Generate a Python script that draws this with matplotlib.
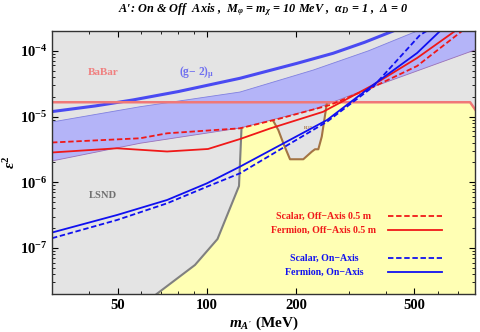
import matplotlib
matplotlib.use('Agg')
import matplotlib.pyplot as plt
from matplotlib.ticker import FixedLocator, NullFormatter, LogLocator

plt.rcParams['font.family'] = 'Liberation Serif'
plt.rcParams['font.weight'] = 'bold'
plt.rcParams['mathtext.fontset'] = 'custom'
plt.rcParams['mathtext.rm'] = 'Liberation Serif:bold'
plt.rcParams['mathtext.bf'] = 'Liberation Serif:bold'
plt.rcParams['mathtext.it'] = 'Liberation Serif:italic:bold'
plt.rcParams['mathtext.default'] = 'bf'

# --- data (m in MeV, eps^2) ---
scalar_off_m = [30, 59.4, 73.3, 129.1, 176.1, 259.7, 362.6, 510.3, 723.4]
scalar_off_e = [4.03e-6, 4.67e-6, 5.56e-6, 6.62e-6, 9.33e-6, 1.50e-5, 2.81e-5, 5.87e-5, 2.0e-4]

fermion_off_m = [30, 49.7, 73.3, 100.7, 129.1, 163, 245.9, 362.6, 510.3, 685.3]
fermion_off_e = [2.84e-6, 3.29e-6, 2.94e-6, 3.21e-6, 4.55e-6, 6.58e-6, 1.18e-5, 3.02e-5, 7.77e-5, 2.0e-4]

scalar_on_m = [30, 49.7, 73.3, 99.9, 129.1, 253.7, 362.6, 522.2, 550]
scalar_on_e = [1.41e-7, 2.67e-7, 4.79e-7, 8.57e-7, 1.37e-6, 8.35e-6, 2.84e-5, 1.74e-4, 2.0e-4]

fermion_on_m = [30, 49.7, 73.3, 99.9, 129.1, 253.7, 362.6, 510.3, 610]
fermion_on_e = [1.72e-7, 3.18e-7, 5.38e-7, 9.65e-7, 1.73e-6, 8.86e-6, 3.02e-5, 9.25e-5, 2.0e-4]

g2_line_m = [30, 42, 56.3, 80, 129.1, 201, 265.8, 340, 423.5]
g2_line_e = [1.19e-5, 1.45e-5, 1.79e-5, 2.4e-5, 3.82e-5, 6.45e-5, 9.16e-5, 1.35e-4, 2.0e-4]

band_up_m = [30, 59.4, 129.1, 228.1, 350, 510.3]
band_up_e = [8.26e-6, 1.41e-5, 2.36e-5, 5.10e-5, 1.0e-4, 2.0e-4]
band_lo_m = [30, 59.4, 129.1, 230, 354.2, 800]
band_lo_e = [2.11e-6, 3.92e-6, 6.69e-6, 1.3e-5, 2.72e-5, 1.03e-4]

babar_m = [30, 770, 820]
babar_e = [1.65e-5, 1.65e-5, 1.1e-5]

lsnd_m = [67.6, 91.0, 108.4, 128.1, 130.6]
lsnd_e = [2e-8, 5.52e-8, 1.37e-7, 8.78e-7, 6.62e-6]

e137_m = [167.2, 173.8, 180.7, 190.3, 211.0, 225.3, 231.1, 237.1, 243.5, 253.1]
e137_e = [8.55e-6, 6.24e-6, 3.92e-6, 2.24e-6, 2.24e-6, 2.92e-6, 3.18e-6, 3.18e-6, 4.94e-6, 1.55e-5]

xmin, xmax = 30, 800
ymin, ymax = 2e-8, 2e-4

fig = plt.figure(figsize=(4.8, 3.32), dpi=100)
ax = fig.add_axes([0.1083, 0.1145, 0.8813, 0.7921])
ax.set_xscale('log')
ax.set_yscale('log')
ax.set_xlim(xmin, xmax)
ax.set_ylim(ymin, ymax)
ax.set_facecolor('#e4e4e4')

# allowed (yellow) region
yel_m = lsnd_m + [247, 770, 800, 800]
yel_e = lsnd_e + [1.65e-5, 1.65e-5, 1.26e-5, ymin]
ax.fill(yel_m, yel_e, color='#ffffb4', lw=0, zorder=1)

# E137 style region
ax.fill(e137_m, e137_e, color='#e4e4e4', lw=0, zorder=2)
ax.plot(e137_m, e137_e, color='#a47444', lw=1.5, zorder=3)
ax.text(212, 6.5e-6, 'E137', fontsize=3, color='#a47444', zorder=3)

# (g-2) band
ax.fill(band_up_m + [800] + band_lo_m[::-1], band_up_e + [2e-4] + band_lo_e[::-1],
        color='#b4b4f8', lw=0, zorder=2)
ax.plot(band_up_m, band_up_e, color='#8080e0', lw=0.6, zorder=2)
ax.plot(band_lo_m, band_lo_e, color='#9a70b8', lw=0.6, zorder=2)
ax.plot(g2_line_m, g2_line_e, color='#4a4af2', lw=2.2, zorder=4)

ax.plot(babar_m, babar_e, color='#f07878', lw=1.8, zorder=4)
ax.plot(lsnd_m, lsnd_e, color='#808080', lw=1.5, zorder=4)

ax.plot(scalar_off_m, scalar_off_e, color='#f01818', lw=1.3, ls=(0, (3, 1.5)), zorder=5)
ax.plot(fermion_off_m, fermion_off_e, color='#f01818', lw=1.3, zorder=5)
ax.plot(scalar_on_m, scalar_on_e, color='#1010f0', lw=1.3, ls=(0, (3, 1.5)), zorder=5)
ax.plot(fermion_on_m, fermion_on_e, color='#1010f0', lw=1.3, zorder=5)

# labels inside
ax.text(44.6, 4.6e-5, 'BaBar', color='#f08080', fontsize=8, fontweight='bold',
        ha='center', va='center', zorder=6)
ax.text(92.5, 4.6e-5, r'(g$-$ 2)$_\mu$', color='#7070f0', fontsize=8.3,
        fontweight='bold', ha='center', va='center', zorder=6)
ax.text(44.6, 6.4e-7, 'LSND', color='#707070', fontsize=7.6, fontweight='bold',
        ha='center', va='center', zorder=6)

# legend drawn by hand in axes coords
leg = [('Scalar, Off\u2212Axis 0.5 m', '#f01818', (0, (3, 1.5)), 0.296),
       ('Fermion, Off\u2212Axis 0.5 m', '#f01818', '-', 0.243),
       ('Scalar, On\u2212Axis', '#1010f0', (0, (3, 1.5)), 0.135),
       ('Fermion, On\u2212Axis', '#1010f0', '-', 0.082)]
for txt, col, ls, yy in leg:
    ax.text(0.643, yy, txt, color=col, fontsize=7.1, fontweight='bold',
            ha='center', va='center', transform=ax.transAxes, zorder=6)
    ax.plot([0.794, 0.921], [yy, yy], color=col, ls=ls, lw=1.3,
            transform=ax.transAxes, zorder=6)

ax.xaxis.set_major_locator(FixedLocator([50, 100, 200, 500]))
ax.xaxis.set_minor_locator(FixedLocator([40, 60, 70, 80, 90, 300, 400, 600, 700]))
ax.set_xticklabels(['50', '100', '200', '500'], fontweight='bold')
ax.xaxis.set_minor_formatter(NullFormatter())
ax.yaxis.set_major_locator(FixedLocator([1e-7, 1e-6, 1e-5, 1e-4]))
ax.yaxis.set_minor_locator(LogLocator(base=10, subs=range(2, 10)))
ax.yaxis.set_minor_formatter(NullFormatter())
ax.set_yticklabels([r'$10^{-7}$', r'$10^{-6}$', r'$10^{-5}$', r'$10^{-4}$'])
ax.tick_params(which='both', direction='in', top=True, right=True, labelsize=10.5)
ax.tick_params(which='major', length=4, width=0.8)
ax.tick_params(which='minor', length=2, width=0.6)
for sp in ax.spines.values():
    sp.set_linewidth(1.0)
    sp.set_color('#333333')
    sp.set_zorder(10)

ax.set_xlabel(r"$\mathit{m}_{\mathit{A'}}$ (MeV)", fontsize=11, fontweight='bold', labelpad=2)
ax.set_ylabel(r'$\mathit{\epsilon}^2$', fontsize=11, labelpad=1)
fig.text(0.548, 0.972,
         "A\u2032: On & Off  Axis ,  $\\mathit{M_\\varphi}$ = $\\mathit{m_\\chi}$ = 10 MeV ,  $\\mathit{\\alpha_D}$ = 1 ,  \u0394 = 0",
         ha='center', va='center', fontsize=8.8, fontweight='bold', style='italic')

fig.savefig('out.png', dpi=100)
